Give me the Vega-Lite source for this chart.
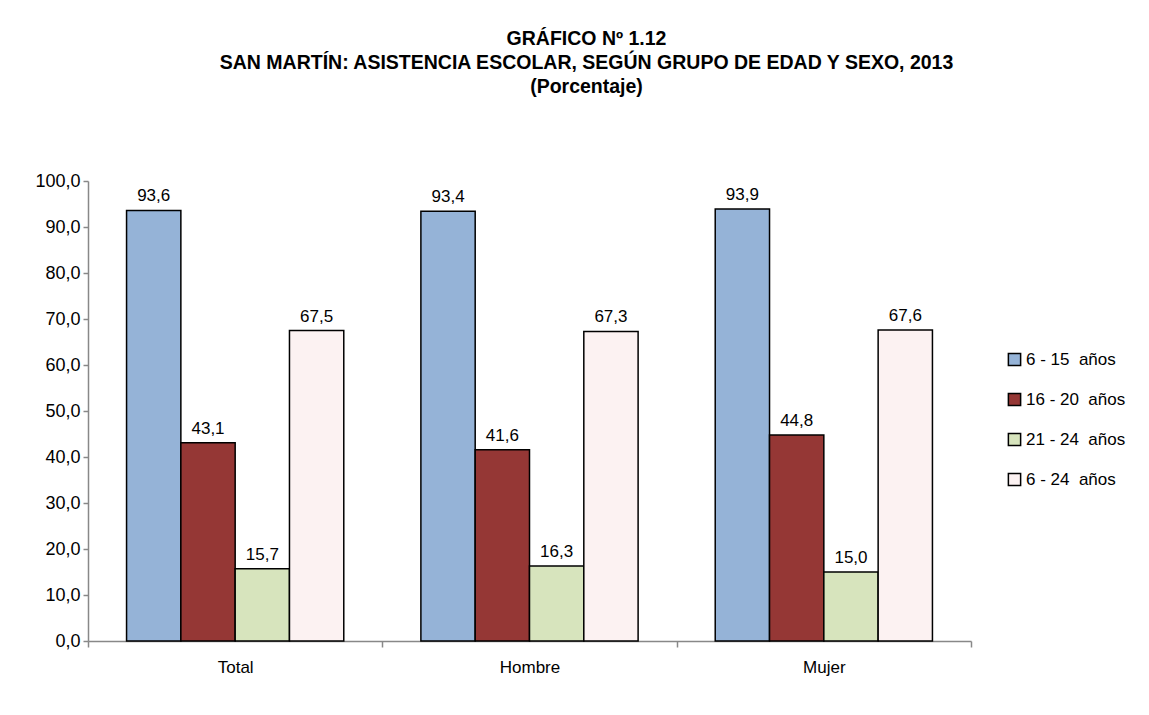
{
  "$schema": "https://vega.github.io/schema/vega-lite/v6.json",
  "autosize": "none",
  "width": 883,
  "height": 460,
  "padding": {"left": 88, "top": 181, "right": 178, "bottom": 74},
  "background": "white",
  "config": {
    "font": "Liberation Sans, Arial, sans-serif",
    "view": {"stroke": null},
    "locale": {"number": {"decimal": ",", "thousands": ".", "grouping": [3], "currency": ["", ""]}}
  },
  "title": {
    "text": ["GRÁFICO Nº 1.12", "SAN MARTÍN: ASISTENCIA ESCOLAR, SEGÚN GRUPO DE EDAD Y SEXO, 2013", "(Porcentaje)"],
    "fontSize": 19.5,
    "fontWeight": "bold",
    "color": "black",
    "lineHeight": 24,
    "anchor": "middle",
    "dx": 57,
    "offset": 75
  },
  "data": {
    "values": [
      {"sexo": "Total", "grupo": "6 - 15 años", "valor": 93.6},
      {"sexo": "Total", "grupo": "16 - 20 años", "valor": 43.1},
      {"sexo": "Total", "grupo": "21 - 24 años", "valor": 15.7},
      {"sexo": "Total", "grupo": "6 - 24 años", "valor": 67.5},
      {"sexo": "Hombre", "grupo": "6 - 15 años", "valor": 93.4},
      {"sexo": "Hombre", "grupo": "16 - 20 años", "valor": 41.6},
      {"sexo": "Hombre", "grupo": "21 - 24 años", "valor": 16.3},
      {"sexo": "Hombre", "grupo": "6 - 24 años", "valor": 67.3},
      {"sexo": "Mujer", "grupo": "6 - 15 años", "valor": 93.9},
      {"sexo": "Mujer", "grupo": "16 - 20 años", "valor": 44.8},
      {"sexo": "Mujer", "grupo": "21 - 24 años", "valor": 15.0},
      {"sexo": "Mujer", "grupo": "6 - 24 años", "valor": 67.6}
    ]
  },
  "encoding": {
    "x": {
      "field": "sexo",
      "type": "nominal",
      "sort": ["Total", "Hombre", "Mujer"],
      "scale": {"paddingInner": 0, "paddingOuter": 0},
      "axis": {
        "title": null,
        "labelAngle": 0,
        "labelFontSize": 17,
        "labelColor": "black",
        "labelPadding": 12,
        "tickBand": "extent",
        "tickSize": 6,
        "tickColor": "#888888",
        "domainColor": "#888888",
        "domainWidth": 1.5,
        "tickWidth": 1.5
      }
    },
    "xOffset": {
      "field": "grupo",
      "type": "nominal",
      "sort": ["6 - 15 años", "16 - 20 años", "21 - 24 años", "6 - 24 años"],
      "scale": {"paddingInner": 0, "paddingOuter": 0.71}
    },
    "y": {
      "field": "valor",
      "type": "quantitative",
      "scale": {"domain": [0, 100]},
      "axis": {
        "title": null,
        "values": [0, 10, 20, 30, 40, 50, 60, 70, 80, 90, 100],
        "format": ".1f",
        "grid": false,
        "labelFontSize": 18,
        "labelColor": "black",
        "labelPadding": 3,
        "tickSize": 5,
        "tickColor": "#888888",
        "domainColor": "#888888",
        "domainWidth": 1.5,
        "tickWidth": 1.5
      }
    }
  },
  "layer": [
    {
      "mark": {"type": "bar", "stroke": "black", "strokeWidth": 1.5},
      "encoding": {
        "color": {
          "field": "grupo",
          "type": "nominal",
          "scale": {
            "domain": ["6 - 15 años", "16 - 20 años", "21 - 24 años", "6 - 24 años"],
            "range": ["#95B3D7", "#953735", "#D7E4BD", "#FCF2F2"]
          },
          "legend": {
            "title": null,
            "orient": "none",
            "legendX": 918,
            "legendY": 170,
            "symbolType": "square",
            "symbolSize": 150,
            "symbolStrokeColor": "black",
            "symbolStrokeWidth": 1.5,
            "labelFontSize": 17,
            "labelColor": "black",
            "labelOffset": 3,
            "rowPadding": 21,
            "labelExpr": "replace(replace(datum.label, /^6 /, '\u2007\u00a06\u00a0'), ' años', '\u00a0\u00a0años')"
          }
        }
      }
    },
    {
      "mark": {"type": "text", "baseline": "bottom", "dy": -5, "fontSize": 17, "color": "black"},
      "encoding": {
        "text": {"field": "valor", "type": "quantitative", "format": ".1f"}
      }
    }
  ]
}
